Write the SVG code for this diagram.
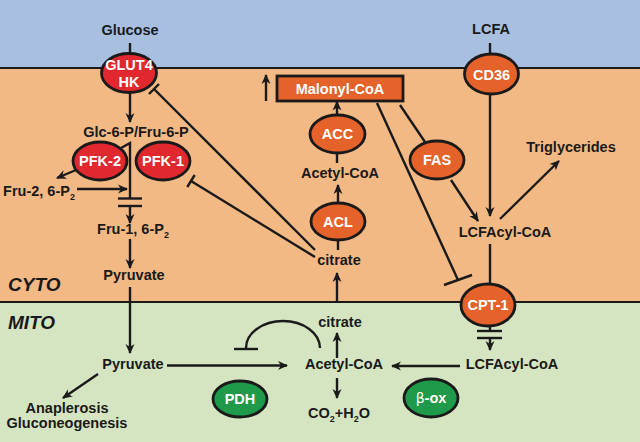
<svg xmlns="http://www.w3.org/2000/svg" width="640" height="442" viewBox="0 0 640 442">
<style>
text{font-family:"Liberation Sans",Arial,Helvetica,sans-serif;font-weight:bold;fill:#1a1a1a;font-size:14.5px;text-anchor:middle}
.w{fill:#fff}
.c{stroke:#1a1a1a;stroke-width:2.4;fill:none}
.a{marker-end:url(#ah)}
.red{fill:#e0282e;stroke:#1a1a1a;stroke-width:2.8}
.org{fill:#e5622a;stroke:#1a1a1a;stroke-width:2.8}
.grn{fill:#1f9a4b;stroke:#1a1a1a;stroke-width:2.8}
.lab{font-size:19px;font-style:italic;text-anchor:start}
</style>
<defs>
<marker id="ah" viewBox="0 0 10 10" markerUnits="userSpaceOnUse" markerWidth="10" markerHeight="10" refX="9" refY="5" orient="auto">
<path d="M0,0.5 L10,5 L0,9.5 L3,5 z" fill="#1a1a1a"/>
</marker>
</defs>
<rect x="0" y="0" width="640" height="68" fill="#a9bfe0"/>
<rect x="0" y="68" width="640" height="234" fill="#f3b985"/>
<rect x="0" y="302" width="640" height="140" fill="#d6e5c1"/>
<line x1="0" y1="68" x2="640" y2="68" stroke="#1a1a1a" stroke-width="2"/>
<line x1="0" y1="302" x2="640" y2="302" stroke="#1a1a1a" stroke-width="2"/>
<text class="lab" x="8" y="291">CYTO</text>
<text class="lab" x="8" y="329">MITO</text>

<g id="connectors">
<line class="c" x1="130" y1="43" x2="130" y2="54"/>
<line class="c a" x1="130" y1="92" x2="130" y2="122"/>
<polyline class="c" points="121,148 130,143 130,198.5"/>
<line class="c" x1="118" y1="198.5" x2="142" y2="198.5"/>
<line class="c" x1="118" y1="206" x2="142" y2="206"/>
<line class="c a" x1="130" y1="206" x2="130" y2="223"/>
<line class="c a" x1="77" y1="189" x2="127" y2="189"/>
<line class="c a" x1="76" y1="170" x2="57" y2="178"/>
<line class="c a" x1="130" y1="239" x2="130" y2="268"/>
<line class="c a" x1="130" y1="287" x2="130" y2="353"/>
<line class="c a" x1="167" y1="365.5" x2="287" y2="365.5"/>
<line class="c a" x1="98" y1="374" x2="63" y2="398"/>
<path class="c" d="M320,348 A37,27 0 0 0 246,348"/>
<line class="c" x1="234" y1="349" x2="258" y2="349"/>
<line class="c a" x1="337" y1="358" x2="337" y2="333"/>
<line class="c a" x1="337" y1="378" x2="337" y2="398"/>
<line class="c a" x1="337" y1="302" x2="337" y2="273"/>
<line class="c" x1="338" y1="250" x2="338" y2="240"/>
<line class="c a" x1="338" y1="203" x2="338" y2="185"/>
<line class="c" x1="337" y1="163" x2="337" y2="153"/>
<line class="c a" x1="337" y1="115" x2="337" y2="101.5"/>
<line class="c a" x1="266" y1="101" x2="266" y2="75"/>
<line class="c" x1="400" y1="105" x2="425" y2="142"/>
<line class="c" x1="377" y1="103" x2="458" y2="280"/>
<line class="c" x1="444" y1="285" x2="472" y2="275"/>
<line class="c a" x1="451" y1="180" x2="478" y2="221"/>
<line class="c a" x1="490" y1="94" x2="490" y2="216"/>
<line class="c" x1="490" y1="43" x2="490" y2="54"/>
<line class="c a" x1="500" y1="219" x2="559" y2="161"/>
<line class="c" x1="490" y1="244" x2="490" y2="285"/>
<line class="c" x1="490" y1="325" x2="490" y2="331"/>
<line class="c" x1="477" y1="331" x2="502" y2="331"/>
<line class="c" x1="477" y1="338" x2="502" y2="338"/>
<line class="c a" x1="490" y1="338" x2="490" y2="350"/>
<line class="c a" x1="460" y1="366" x2="392" y2="366"/>
<line class="c" x1="315" y1="250" x2="154" y2="89"/>
<line class="c" x1="149" y1="94" x2="159" y2="84"/>
<line class="c" x1="315" y1="257" x2="191" y2="181"/>
<line class="c" x1="187.3" y1="187" x2="194.7" y2="175"/>
</g>

<g id="labels">
<text x="130" y="35">Glucose</text>
<text x="491" y="34">LCFA</text>
<text x="136" y="137">Glc-6-P/Fru-6-P</text>
<text x="39" y="196">Fru-2, 6-P<tspan font-size="9" dy="4">2</tspan></text>
<text x="133" y="234">Fru-1, 6-P<tspan font-size="9" dy="4">2</tspan></text>
<text x="134" y="280">Pyruvate</text>
<text x="133" y="369">Pyruvate</text>
<text x="67" y="413">Anaplerosis</text>
<text x="67" y="428">Gluconeogenesis</text>
<text x="344" y="369">Acetyl-CoA</text>
<text x="340" y="327">citrate</text>
<text x="339" y="418">CO<tspan font-size="9" dy="4">2</tspan><tspan dy="-4">+H</tspan><tspan font-size="9" dy="4">2</tspan><tspan dy="-4">O</tspan></text>
<text x="512" y="369">LCFAcyl-CoA</text>
<text x="339" y="265">citrate</text>
<text x="340" y="178">Acetyl-CoA</text>
<text x="571" y="152">Triglycerides</text>
<text x="505" y="237">LCFAcyl-CoA</text>
</g>

<g id="GLUT4"><ellipse class="red" cx="129" cy="73" rx="27.5" ry="19.5"/><text class="w" x="129" y="70" font-size="12">GLUT4</text><text class="w" x="129" y="87" font-size="12">HK</text></g>
<g id="PFK2"><ellipse class="red" cx="100" cy="161" rx="27" ry="19"/><text class="w" x="100" y="166" font-size="13">PFK-2</text></g>
<g id="PFK1"><ellipse class="red" cx="163" cy="161" rx="27" ry="19"/><text class="w" x="163" y="166" font-size="13">PFK-1</text></g>
<g id="Malonyl"><rect class="org" x="277" y="76" width="126" height="25"/><text class="w" x="340" y="94">Malonyl-CoA</text></g>
<g id="ACC"><ellipse class="org" cx="337.5" cy="134" rx="27.5" ry="19"/><text class="w" x="337.5" y="139">ACC</text></g>
<g id="ACL"><ellipse class="org" cx="338" cy="221.5" rx="27" ry="18.5"/><text class="w" x="338" y="226.5">ACL</text></g>
<g id="FAS"><ellipse class="org" cx="437" cy="160" rx="27" ry="19"/><text class="w" x="437" y="165">FAS</text></g>
<g id="CD36"><ellipse class="org" cx="491.5" cy="74" rx="27" ry="20"/><text class="w" x="491.5" y="79.5" font-size="14.5">CD36</text></g>
<g id="CPT1"><ellipse class="org" cx="488" cy="305" rx="27" ry="21"/><text class="w" x="488" y="309.5" font-size="13.5">CPT-1</text></g>
<g id="PDH"><ellipse class="grn" cx="240" cy="399" rx="27" ry="18"/><text class="w" x="240" y="404">PDH</text></g>
<g id="box"><ellipse class="grn" cx="431" cy="398" rx="27" ry="19"/><text class="w" x="431" y="403"><tspan font-weight="normal" font-family="DejaVu Sans, sans-serif" font-size="14">β</tspan>-ox</text></g>
</svg>
